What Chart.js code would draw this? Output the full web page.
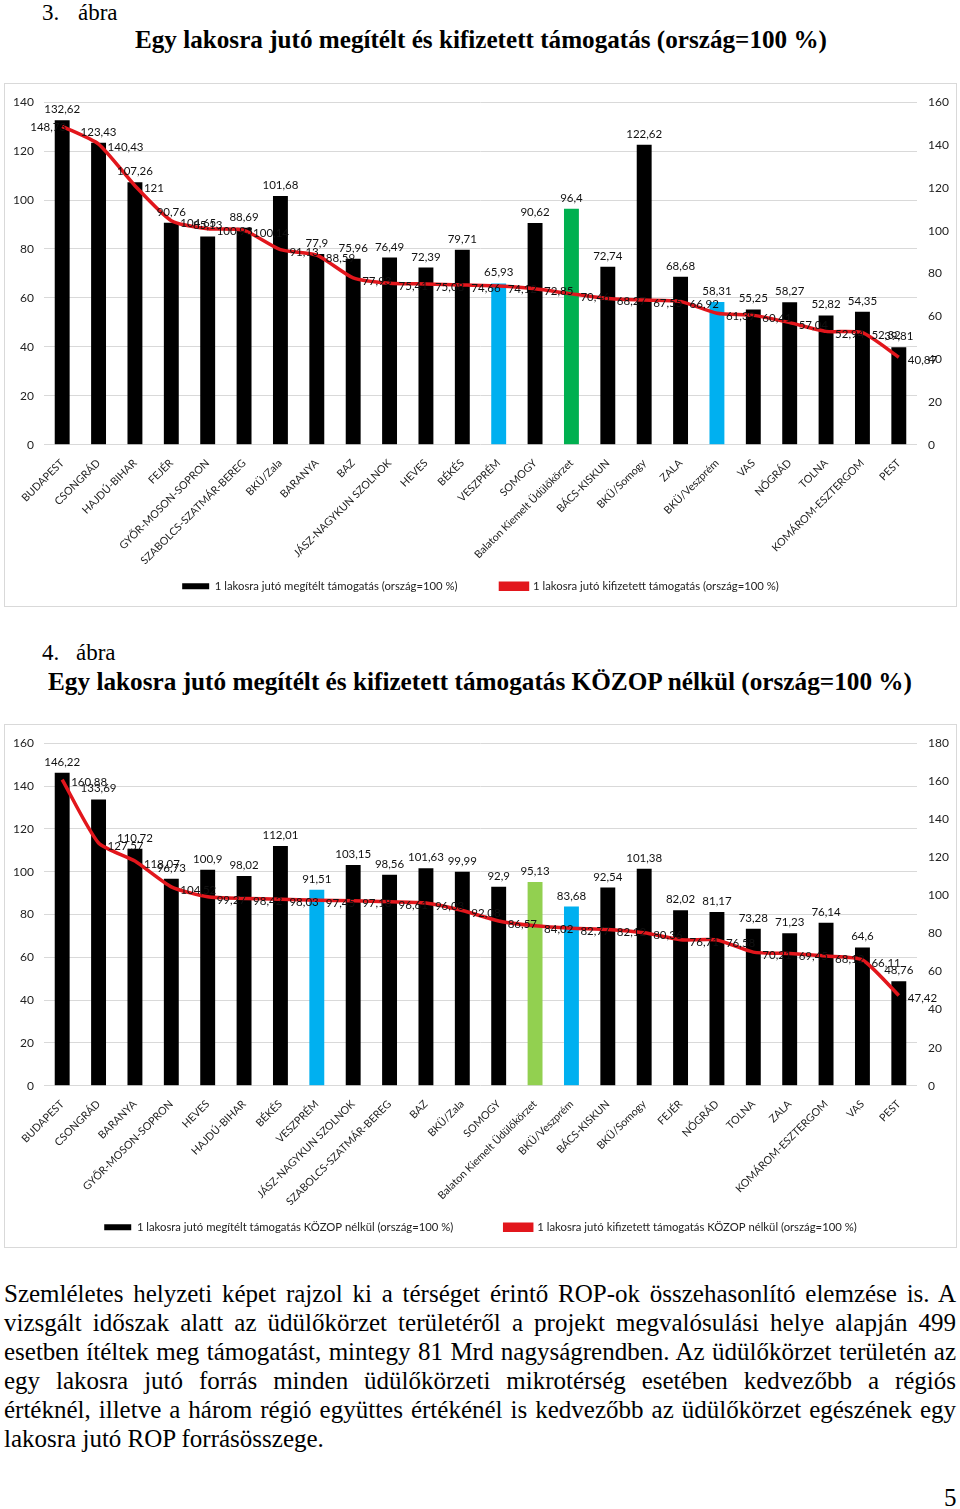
<!DOCTYPE html>
<html>
<head>
<meta charset="utf-8">
<script src="https://cdn.jsdelivr.net/npm/chart.js@4.4.1/dist/chart.umd.min.js"></script>
<style>
  body { margin: 0; background: #fff; width: 960px; height: 1509px; position: relative; overflow: hidden;
         font-family: "Liberation Serif", "Times New Roman", serif; color: #000; }
  .abs { position: absolute; white-space: nowrap; }
  .fig { font-size: 23px; line-height: 26px; }
  .title { font-size: 25px; line-height: 28px; font-weight: bold; }
  .box { position: absolute; left: 4px; width: 951px; height: 522px; border: 1px solid #d9d9d9; }
  .box canvas { display: block; }
  .para { font-size: 25px; line-height: 29px; left: 4px; }
</style>
</head>
<body>

<div class="abs fig" style="left:42px;top:0px">3.</div>
<div class="abs fig" style="left:78px;top:0px">ábra</div>
<div class="abs title fit" data-w="692" style="left:135px;top:26px">Egy lakosra jutó megítélt és kifizetett támogatás (ország=100 %)</div>
<div class="box" style="top:83px"><canvas id="chart1" width="951" height="522"></canvas></div>

<div class="abs fig" style="left:42px;top:640px">4.</div>
<div class="abs fig" style="left:76px;top:640px">ábra</div>
<div class="abs title fit" data-w="864" style="left:48px;top:668px">Egy lakosra jutó megítélt és kifizetett támogatás KÖZOP nélkül (ország=100 %)</div>
<div class="box" style="top:724px"><canvas id="chart2" width="951" height="522"></canvas></div>

<div class="abs para just" style="top:1279px">Szemléletes helyzeti képet rajzol ki a térséget érintő ROP-ok összehasonlító elemzése is. A</div>
<div class="abs para just" style="top:1308px">vizsgált időszak alatt az üdülőkörzet területéről a projekt megvalósulási helye alapján 499</div>
<div class="abs para just" style="top:1337px">esetben ítéltek meg támogatást, mintegy 81 Mrd nagyságrendben. Az üdülőkörzet területén az</div>
<div class="abs para just" style="top:1366px">egy lakosra jutó forrás minden üdülőkörzeti mikrotérség esetében kedvezőbb a régiós</div>
<div class="abs para just" style="top:1395px">értéknél, illetve a három régió együttes értékénél is kedvezőbb az üdülőkörzet egészének egy</div>
<div class="abs para" style="top:1424px">lakosra jutó ROP forrásösszege.</div>
<div class="abs para" style="left:944px;top:1483px">5</div>

<script>
// 3. ábra
const categories1 = ['BUDAPEST', 'CSONGRÁD', 'HAJDÚ-BIHAR', 'FEJÉR', 'GYŐR-MOSON-SOPRON', 'SZABOLCS-SZATMÁR-BEREG',
    'BKÜ/Zala', 'BARANYA', 'BAZ', 'JÁSZ-NAGYKUN SZOLNOK', 'HEVES', 'BÉKÉS', 'VESZPRÉM', 'SOMOGY',
    'Balaton Kiemelt Üdülőkörzet', 'BÁCS-KISKUN', 'BKÜ/Somogy', 'ZALA', 'BKÜ/Veszprém', 'VAS', 'NÓGRÁD', 'TOLNA',
    'KOMÁROM-ESZTERGOM', 'PEST'];
const awarded1 = [132.62, 123.43, 107.26, 90.76, 85.13, 88.69, 101.68, 77.9, 75.96, 76.49, 72.39, 79.71, 65.93, 90.62,
    96.4, 72.74, 122.62, 68.68, 58.31, 55.25, 58.27, 52.82, 54.35, 39.81];
const paid1 = [148.73, 140.43, 121, 104.65, 100.93, 100.14, 91.13, 88.59, 77.93, 75.41, 75.08, 74.66, 74.12, 72.85,
    70.46, 68.27, 67.55, 66.92, 61.39, 60.41, 57.04, 52.94, 52.32, 40.87];
const leftTicks1 = [0, 20, 40, 60, 80, 100, 120, 140];
const rightTicks1 = [0, 20, 40, 60, 80, 100, 120, 140, 160];

// 4. ábra
const categories2 = ['BUDAPEST', 'CSONGRÁD', 'BARANYA', 'GYŐR-MOSON-SOPRON', 'HEVES', 'HAJDÚ-BIHAR', 'BÉKÉS',
    'VESZPRÉM', 'JÁSZ-NAGYKUN SZOLNOK', 'SZABOLCS-SZATMÁR-BEREG', 'BAZ', 'BKÜ/Zala', 'SOMOGY',
    'Balaton Kiemelt Üdülőkörzet', 'BKÜ/Veszprém', 'BÁCS-KISKUN', 'BKÜ/Somogy', 'FEJÉR', 'NÓGRÁD', 'TOLNA', 'ZALA',
    'KOMÁROM-ESZTERGOM', 'VAS', 'PEST'];
const awarded2 = [146.22, 133.69, 110.72, 96.73, 100.9, 98.02, 112.01, 91.51, 103.15, 98.56, 101.63, 99.99, 92.9,
    95.13, 83.68, 92.54, 101.38, 82.02, 81.17, 73.28, 71.23, 76.14, 64.6, 48.76];
const paid2 = [160.88, 127.57, 118.07, 104.52, 99.27, 98.42, 98.03, 97.45, 97.18, 96.61, 96.03, 92.08, 86.57,
    84.02, 82.77, 82.12, 80.36, 76.71, 76.58, 70.21, 69.45, 68.12, 66.11, 47.42];
const leftTicks2 = [0, 20, 40, 60, 80, 100, 120, 140, 160];
const rightTicks2 = [0, 20, 40, 60, 80, 100, 120, 140, 160, 180];

const RED = '#e2161c';
const BLUE = '#00b0f0';
const FONT = 'Lato, "Open Sans", sans-serif';

const fmt = v => String(v).replace('.', ',');

// Bar colours: highlighted areas
function barColors(cats, balatonColor) {
    return cats.map(c => {
        if (c.startsWith('Balaton')) return balatonColor;
        if (c.toUpperCase().includes('VESZPR')) return BLUE;
        return '#000';
    });
}

// Data labels (no datalabels plugin available)
const valueLabels = {
    id: 'valueLabels',
    afterDatasetsDraw(chart, args, opts) {
        const ctx = chart.ctx;
        ctx.save();
        ctx.font = '11.5px ' + FONT;
        ctx.fillStyle = '#111';
        chart.data.datasets.forEach((ds, i) => {
            const meta = chart.getDatasetMeta(i);
            meta.data.forEach((el, j) => {
                const txt = fmt(ds.data[j]);
                if (meta.type === 'bar') {
                    ctx.textAlign = 'center';
                    ctx.textBaseline = 'bottom';
                    ctx.fillText(txt, el.x, el.y - 5);
                } else if (j === 0 && opts.firstLeft) {
                    ctx.textAlign = 'right';
                    ctx.textBaseline = 'middle';
                    ctx.fillText(txt, el.x + 4, el.y + 1);
                } else {
                    ctx.textAlign = 'left';
                    ctx.textBaseline = 'middle';
                    ctx.fillText(txt, el.x + 9, el.y + 3);
                }
            });
        });
        ctx.restore();
    }
};

function makeChart(id, cats, bars, line, barLabel, lineLabel, leftTicks, rightTicks, balatonColor, firstLeft, legendGap) {
    const lmax = leftTicks[leftTicks.length - 1];
    const rmax = rightTicks[rightTicks.length - 1];
    return new Chart(document.getElementById(id), {
        type: 'bar',
        data: {
            labels: cats,
            datasets: [
                {
                    type: 'bar',
                    label: barLabel,
                    data: bars,
                    backgroundColor: barColors(cats, balatonColor),
                    yAxisID: 'y',
                    barPercentage: 0.41,
                    categoryPercentage: 1,
                    order: 1
                },
                {
                    type: 'line',
                    label: lineLabel,
                    data: line,
                    borderColor: RED,
                    backgroundColor: RED,
                    borderWidth: 3.5,
                    pointRadius: 0,
                    tension: 0.2,
                    yAxisID: 'y1',
                    order: 0
                }
            ]
        },
        options: {
            responsive: false,
            animation: false,
            layout: { padding: { top: 4, bottom: 4, left: 0, right: 0 } },
            plugins: {
                tooltip: { enabled: false },
                valueLabels: { firstLeft: firstLeft },
                legend: {
                    position: 'bottom',
                    reverse: true,
                    labels: {
                        boxWidth: 27, boxHeight: 6, padding: 9, color: '#222',
                        font: { family: FONT, size: 11.3 },
                        // trailing em spaces widen the gap between the two items
                        generateLabels(chart) {
                            const items = Chart.defaults.plugins.legend.labels.generateLabels(chart);
                            items.forEach(it => {
                                if (it.datasetIndex === 0) it.text += '\u2003'.repeat(legendGap);
                            });
                            return items;
                        }
                    }
                }
            },
            scales: {
                x: {
                    grid: { display: false },
                    border: { display: false },
                    ticks: { autoSkip: false, minRotation: 45, maxRotation: 45, color: '#222', padding: 4,
                             font: { family: FONT, size: 10.7 } },
                    afterFit(s) { s.height = 127; }
                },
                y: {
                    position: 'left',
                    min: 0, max: lmax,
                    afterBuildTicks(s) { s.ticks = leftTicks.map(v => ({ value: v })); },
                    grid: { color: '#d9d9d9', drawTicks: false },
                    border: { display: false },
                    ticks: { color: '#222', padding: 10, font: { family: FONT, size: 12 } },
                    afterFit(s) { s.width = 39; }
                },
                y1: {
                    position: 'right',
                    min: 0, max: rmax,
                    afterBuildTicks(s) { s.ticks = rightTicks.map(v => ({ value: v })); },
                    grid: { display: false, drawTicks: false },
                    border: { display: false },
                    ticks: { color: '#222', padding: 11, font: { family: FONT, size: 12 } },
                    afterFit(s) { s.width = 39; }
                }
            }
        },
        plugins: [valueLabels]
    });
}

makeChart('chart1', categories1, awarded1, paid1,
    '1 lakosra jutó megítélt támogatás (ország=100 %)',
    '1 lakosra jutó kifizetett támogatás (ország=100 %)',
    leftTicks1, rightTicks1, '#00b050', true, 4);

makeChart('chart2', categories2, awarded2, paid2,
    '1 lakosra jutó megítélt támogatás KÖZOP nélkül (ország=100 %)',
    '1 lakosra jutó kifizetett támogatás KÖZOP nélkül (ország=100 %)',
    leftTicks2, rightTicks2, '#92d050', false, 5);

// Text fitting: titles squeezed to width, paragraph lines justified
document.querySelectorAll('.fit').forEach(el => {
    const w = el.getBoundingClientRect().width;
    el.style.transformOrigin = 'left top';
    el.style.transform = 'scaleX(' + (+el.dataset.w / w) + ')';
});
document.querySelectorAll('.just').forEach(el => {
    const target = 952;
    const w = el.getBoundingClientRect().width;
    const spaces = (el.textContent.match(/ /g) || []).length;
    let ws = (target - w) / spaces;
    if (ws < -1.5) {
        el.style.transformOrigin = 'left top';
        el.style.transform = 'scaleX(' + (target / w) + ')';
    } else {
        el.style.wordSpacing = ws + 'px';
    }
});
</script>
</body>
</html>
